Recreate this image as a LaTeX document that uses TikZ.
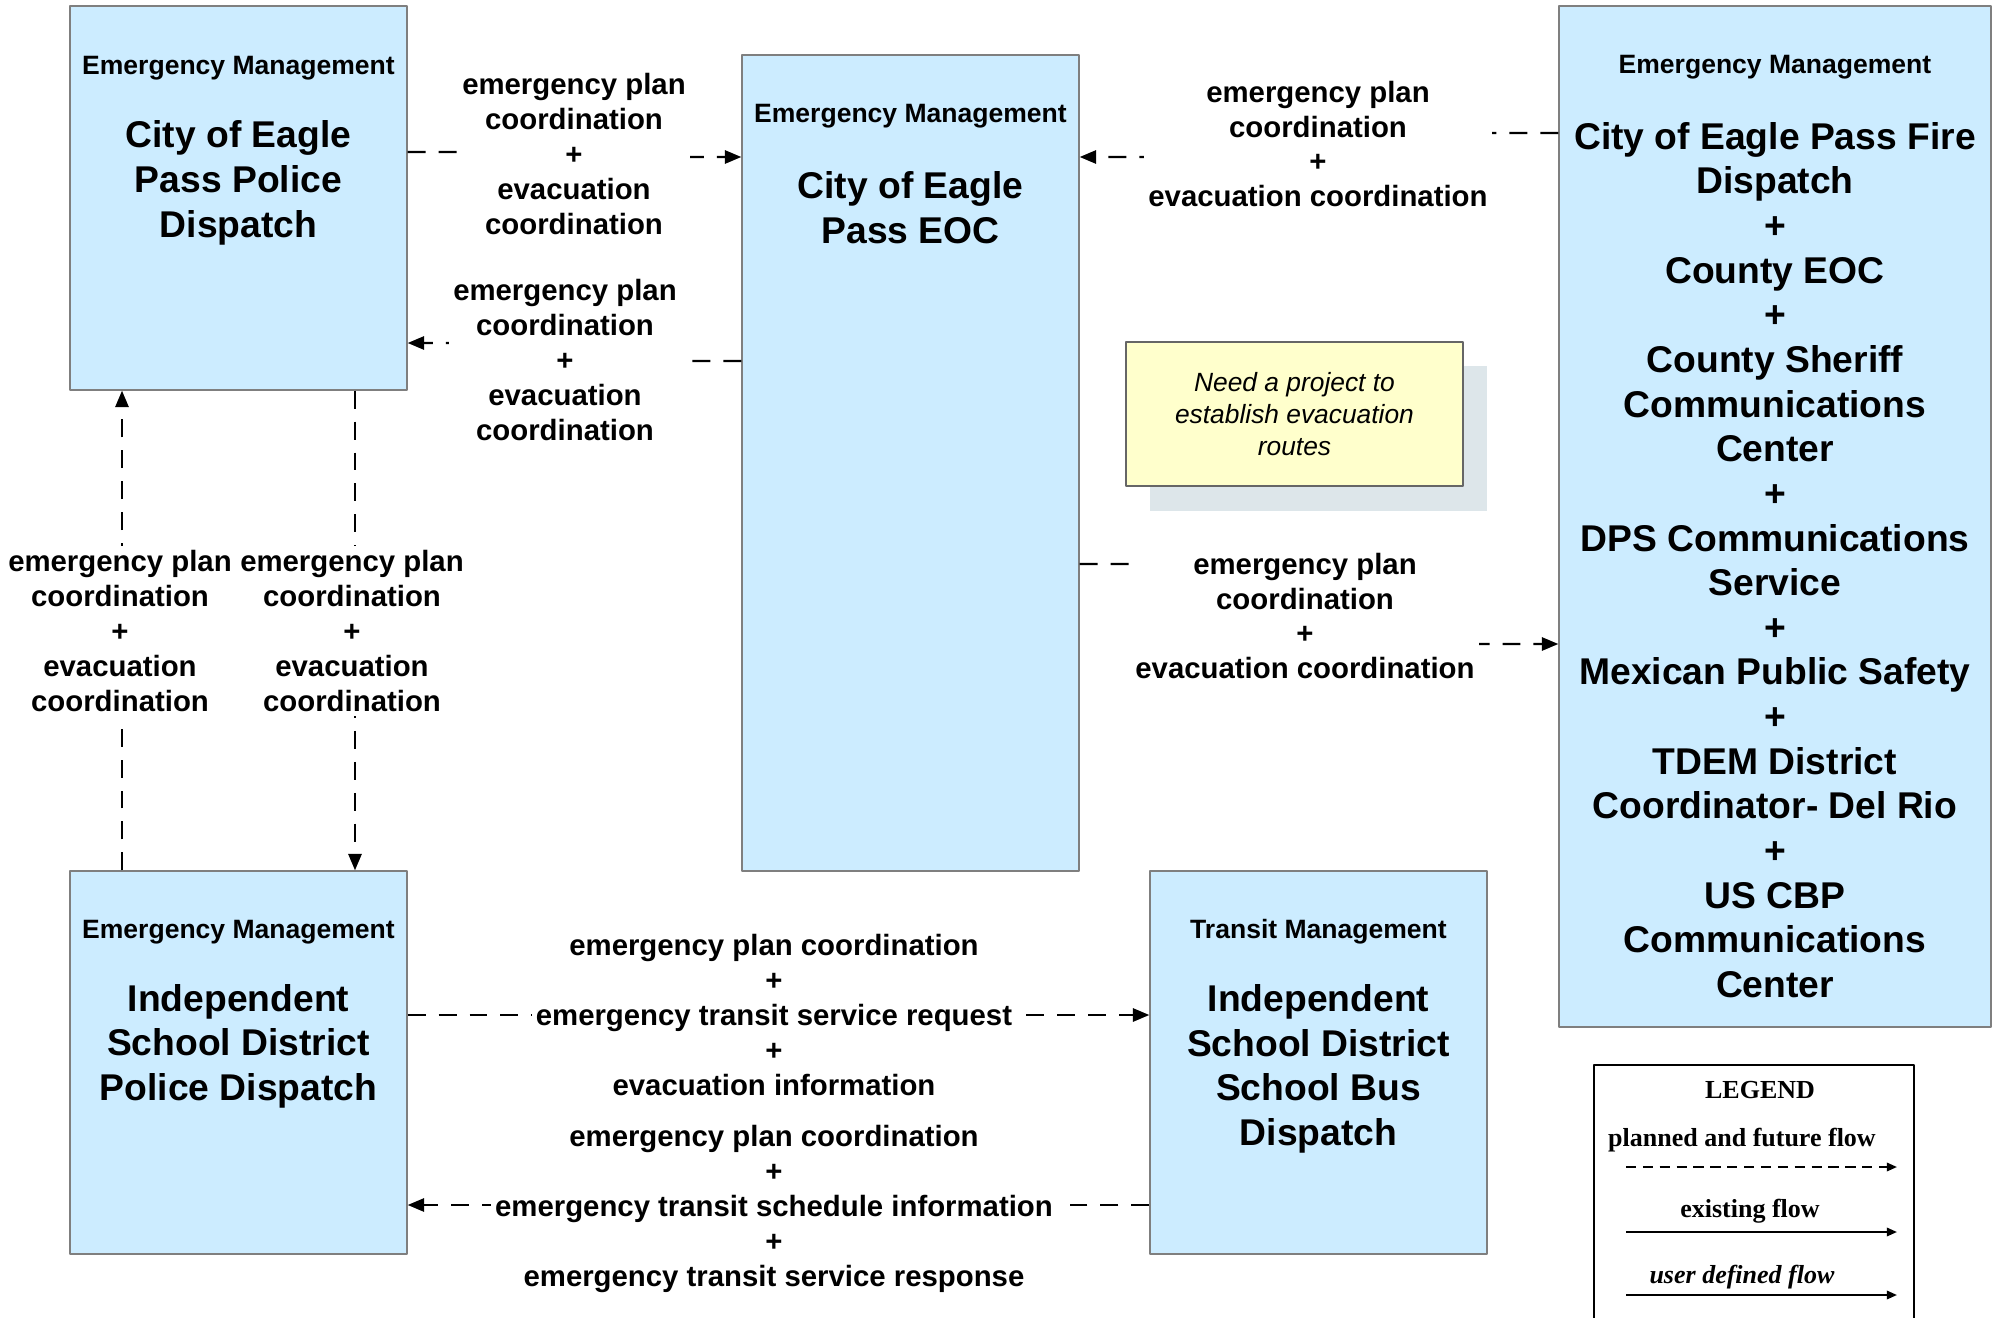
\documentclass[tikz,border=0pt]{standalone}
\usepackage{fontspec}
\setmainfont{Liberation Sans}
\newfontfamily\legendfont{Liberation Serif}
\usepackage{tikz}
\usetikzlibrary{arrows.meta,fit,positioning}
\definecolor{boxfill}{HTML}{CCECFF}
\definecolor{boxline}{HTML}{7F7F7F}
\definecolor{notefill}{HTML}{FFFFCC}
\definecolor{noteline}{HTML}{666666}
\definecolor{noteshadow}{HTML}{DDE6EA}
\tikzset{
  SysBox/.style={draw=boxline, fill=boxfill, line width=0.4pt, inner sep=0pt},
  HeadText/.style={font=\bfseries\fontsize{7.55}{9}\selectfont, inner sep=0pt},
  TitleText/.style={font=\bfseries\fontsize{10.6}{12.7}\selectfont,
    align=center, inner sep=0pt},
  FlowLabel/.style={font=\bfseries\fontsize{8.35}{9.9}\selectfont,
    align=center, fill=white, inner sep=1.2pt},
  Flow/.style={line width=0.6pt, dash pattern=on 5.1pt off 3.7pt,
    -{Triangle[length=4.7pt,width=3.8pt]}},
  NoteBox/.style={draw=noteline, fill=notefill, line width=0.4pt, inner sep=0pt},
  NoteText/.style={font=\itshape\fontsize{7.5}{9.07}\selectfont,
    align=center, inner sep=0pt},
  LegendText/.style={font=\legendfont\bfseries\fontsize{7.4}{9}\selectfont,
    inner sep=0pt},
  LegendFlow/.style={line width=0.6pt, -{Triangle[length=2.9pt,width=2.4pt]}}
}

\begin{document}
\begin{tikzpicture}[x=0.1mm, y=-0.1mm, line join=round]
  \useasboundingbox (0,0) rectangle (2000,1318);

  % system boxes
  \node[SysBox, fit={(70,6) (407,390)}] (police) {};
  \node[SysBox, fit={(742,55) (1079,871)}] (eoc) {};
  \node[SysBox, fit={(1559,6) (1991,1027)}] (fire) {};
  \node[SysBox, fit={(70,871) (407,1254)}] (isdpd) {};
  \node[SysBox, fit={(1150,871) (1487,1254)}] (isdbus) {};

  % box texts
  \node[HeadText] (police-hd) at (police.north |- 0,68) {Emergency Management};
  \node[TitleText] (police-tl) at (police.north |- 0,183)
    {City of Eagle\\Pass Police\\Dispatch};
  \node[HeadText] (eoc-hd) at (eoc.north |- 0,116) {Emergency Management};
  \node[TitleText] (eoc-tl) at (eoc.north |- 0,208) {City of Eagle\\Pass EOC};
  \node[HeadText] (fire-hd) at (fire.north |- 0,67) {Emergency Management};
  \node[TitleText] (fire-tl) at (fire.north |- 0,560)
    {City of Eagle Pass Fire\\Dispatch\\+\\County EOC\\+\\County Sheriff\\
     Communications\\Center\\+\\DPS Communications\\Service\\+\\
     Mexican Public Safety\\+\\TDEM District\\Coordinator- Del Rio\\+\\
     US CBP\\Communications\\Center};
  \node[HeadText] (isdpd-hd) at (isdpd.north |- 0,932) {Emergency Management};
  \node[TitleText] (isdpd-tl) at (isdpd.north |- 0,1046)
    {Independent\\School District\\Police Dispatch};
  \node[HeadText] (isdbus-hd) at (isdbus.north |- 0,932) {Transit Management};
  \node[TitleText] (isdbus-tl) at (isdbus.north |- 0,1069)
    {Independent\\School District\\School Bus\\Dispatch};

  % note
  \fill[noteshadow] (1150,366) rectangle (1487,511);
  \node[NoteBox, fit={(1126,342) (1463,486)}] (note) {};
  \node[NoteText] (note-txt) at (note.center)
    {Need a project to\\establish evacuation\\routes};

  % flows (the step hides under the label)
  \draw[Flow] (police.east |- 0,152) -- (480,152) -- (670,157) -- (eoc.west |- 0,157);
  \draw[Flow] (eoc.west |- 0,361) -- (660,361) -- (470,343) -- (police.east |- 0,343);
  \draw[Flow] (isdpd.north -| 122,0) -- (police.south -| 122,0);
  \draw[Flow] (police.south -| 355,0) -- (isdpd.north -| 355,0);
  \draw[Flow] (fire.west |- 0,133) -- (1470,133) -- (1165,157) -- (eoc.east |- 0,157);
  \draw[Flow] (eoc.east |- 0,564) -- (1150,564) -- (1460,644) -- (fire.west |- 0,644);
  \draw[Flow] (isdpd.east |- 0,1015) -- (isdbus.west |- 0,1015);
  \draw[Flow] (isdbus.west |- 0,1205) -- (isdpd.east |- 0,1205);

  % flow labels
  \node[FlowLabel] (pe-lbl) at (574,154)
    {emergency plan\\coordination\\+\\evacuation\\coordination};
  \node[FlowLabel] (ep-lbl) at (565,360)
    {emergency plan\\coordination\\+\\evacuation\\coordination};
  \node[FlowLabel] (ip-lbl) at (120,631)
    {emergency plan\\coordination\\+\\evacuation\\coordination};
  \node[FlowLabel] (pi-lbl) at (352,631)
    {emergency plan\\coordination\\+\\evacuation\\coordination};
  \node[FlowLabel] (fe-lbl) at (1318,144)
    {emergency plan\\coordination\\+\\evacuation coordination};
  \node[FlowLabel] (ef-lbl) at (1305,616)
    {emergency plan\\coordination\\+\\evacuation coordination};
  \node[FlowLabel] (ib-lbl) at (774,1015)
    {emergency plan coordination\\+\\emergency transit service request\\+\\
     evacuation information};
  \node[FlowLabel] (bi-lbl) at (774,1209)
    {emergency plan coordination\\+\\emergency transit schedule information\\+\\
     emergency transit service response};

  % legend
  \draw[line width=0.8pt] (1594,1318) -- (1594,1065) -- (1914,1065) -- (1914,1318);
  \node[LegendText] (lg-title) at (1760,1090) {LEGEND};
  \node[LegendText] (lg-plan) at (1742,1140) {planned and future flow};
  \node[LegendText] (lg-exist) at (1750,1211) {existing flow};
  \node[LegendText, font=\legendfont\bfseries\itshape\fontsize{7.4}{9}\selectfont]
    (lg-user) at (1742,1277) {user defined flow};
  \coordinate (lg-plan-a) at (1626,1167);
  \coordinate (lg-plan-b) at (1897,1167);
  \coordinate (lg-exist-a) at (1626,1232);
  \coordinate (lg-exist-b) at (1897,1232);
  \coordinate (lg-user-a) at (1626,1295);
  \coordinate (lg-user-b) at (1897,1295);
  \draw[LegendFlow, dash pattern=on 2.9pt off 1.9pt] (lg-plan-a) -- (lg-plan-b);
  \draw[LegendFlow] (lg-exist-a) -- (lg-exist-b);
  \draw[LegendFlow] (lg-user-a) -- (lg-user-b);
\end{tikzpicture}
\end{document}
